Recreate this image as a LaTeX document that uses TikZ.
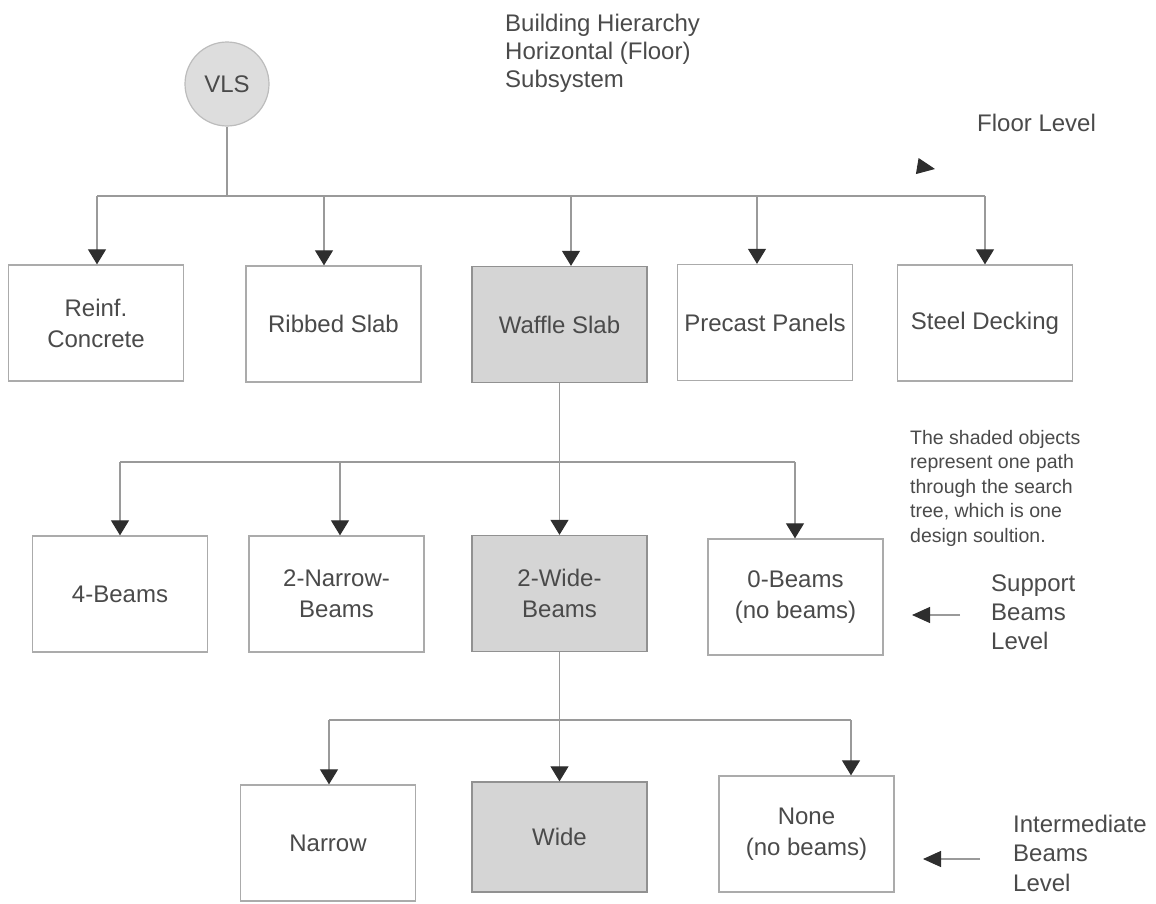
\documentclass[tikz,border=0pt]{standalone}
\usepackage{fontspec}
\setmainfont{Liberation Sans}
\usetikzlibrary{arrows.meta}
\definecolor{txt}{HTML}{4A4A4A}
\definecolor{edge}{HTML}{ABABAB}
\definecolor{wirec}{HTML}{9A9A9A}
\definecolor{tipc}{HTML}{2E2E2E}
\definecolor{shade}{HTML}{D5D5D5}
\definecolor{ballfill}{HTML}{DDDDDD}
\begin{document}
\begin{tikzpicture}[x=1bp,y=-1bp,
  every node/.style={text=txt,font=\fontsize{24bp}{31bp}\selectfont},
  option/.style={draw=edge,line width=1.3bp,fill=white,minimum width=175bp,
    minimum height=116bp,align=center,inner sep=0pt},
  chosen/.style={option,fill=shade,draw=edge!85!black},
  wire/.style={draw=wirec,line width=1.1bp},
  feed/.style={wire,-{Triangle[width=18bp,length=15bp,color=tipc]}},
  pointer/.style={wire,-{Triangle[width=16bp,length=18bp,color=tipc]}},
  lvl/.style={align=left,anchor=north west,inner sep=0pt,
    font=\fontsize{24bp}{29bp}\selectfont}]
\useasboundingbox (0,0) rectangle (1156,904);

% root of the hierarchy
\node[circle,draw=edge!80,fill=ballfill,line width=1.2bp,minimum size=84bp,inner sep=0pt]
  (vls) at (227,84) {VLS};
\node[lvl,font=\fontsize{24bp}{28bp}\selectfont] (title) at (505,13.5)
  {Building Hierarchy\\Horizontal (Floor)\\Subsystem};

% floor level
\node[option] (rc) at (96,323)    {Reinf.\\Concrete};
\node[option] (rs) at (333.5,324) {Ribbed Slab};
\node[chosen] (ws) at (559.5,324.5) {Waffle Slab};
\node[option] (pp) at (765,322.5) {Precast Panels};
\node[option] (sd) at (985,323)   {Steel Decking};

% support beams level
\node[option] (b4)  at (120,594)     {4-Beams};
\node[option] (b2n) at (336.5,594)   {2-Narrow-\\Beams};
\node[chosen] (b2w) at (559.5,593.5) {2-Wide-\\Beams};
\node[option] (b0)  at (795.5,597)   {0-Beams\\(no beams)};

% intermediate beams level
\node[option] (nar) at (328,843)     {Narrow};
\node[chosen,minimum height=110bp] (wid) at (559.5,837) {Wide};
\node[option] (non) at (806.5,834)   {None\\(no beams)};

% level labels and note
\node[lvl] (floorlbl) at (977,113.5) {Floor Level};
\node[lvl] (suplbl) at (991,574.5) {Support\\Beams\\Level};
\node[lvl,font=\fontsize{24bp}{29.5bp}\selectfont] (intlbl) at (1013,814.5)
  {Intermediate\\Beams\\Level};
\node[lvl,font=\fontsize{19.5bp}{24.5bp}\selectfont] (note) at (910,430)
  {The shaded objects\\represent one path\\through the search\\tree, which is one\\design soultion.};

% first branching
\coordinate (hub) at (227,196);
\coordinate (t1) at (97,196);
\coordinate (t2) at (324,196);
\coordinate (t3) at (571,196);
\coordinate (t4) at (757,196);
\coordinate (t5) at (985,196);
\draw[wire] (vls) -- (hub);
\draw[wire] (t1) -- (t5);
\draw[feed] (t1) -- (t1 |- rc.north);
\draw[feed] (t2) -- (t2 |- rs.north);
\draw[feed] (t3) -- (t3 |- ws.north);
\draw[feed] (t4) -- (t4 |- pp.north);
\draw[feed] (t5) -- (t5 |- sd.north);

% second branching
\coordinate (m1) at (120,462);
\coordinate (m2) at (340,462);
\coordinate (m4) at (795,462);
\draw[wire] (m1) -- (m4);
\draw[feed] (ws.south) -- (b2w.north);
\draw[feed] (m1) -- (m1 |- b4.north);
\draw[feed] (m2) -- (m2 |- b2n.north);
\draw[feed] (m4) -- (m4 |- b0.north);

% third branching
\coordinate (n1) at (329,720);
\coordinate (n3) at (851,720);
\draw[wire] (n1) -- (n3);
\draw[feed] (b2w.south) -- (wid.north);
\draw[feed] (n1) -- (n1 |- nar.north);
\draw[feed] (n3) -- (n3 |- non.north);

% level pointers
\coordinate (fl0) at (917,166);
\coordinate (fl1) at (935,169);
\draw[pointer] (fl0) -- (fl1);
\coordinate (sp0) at (960,615);
\coordinate (sp1) at (912,615);
\draw[pointer] (sp0) -- (sp1);
\coordinate (ip0) at (980,859);
\coordinate (ip1) at (923,859);
\draw[pointer] (ip0) -- (ip1);
\end{tikzpicture}
\end{document}
